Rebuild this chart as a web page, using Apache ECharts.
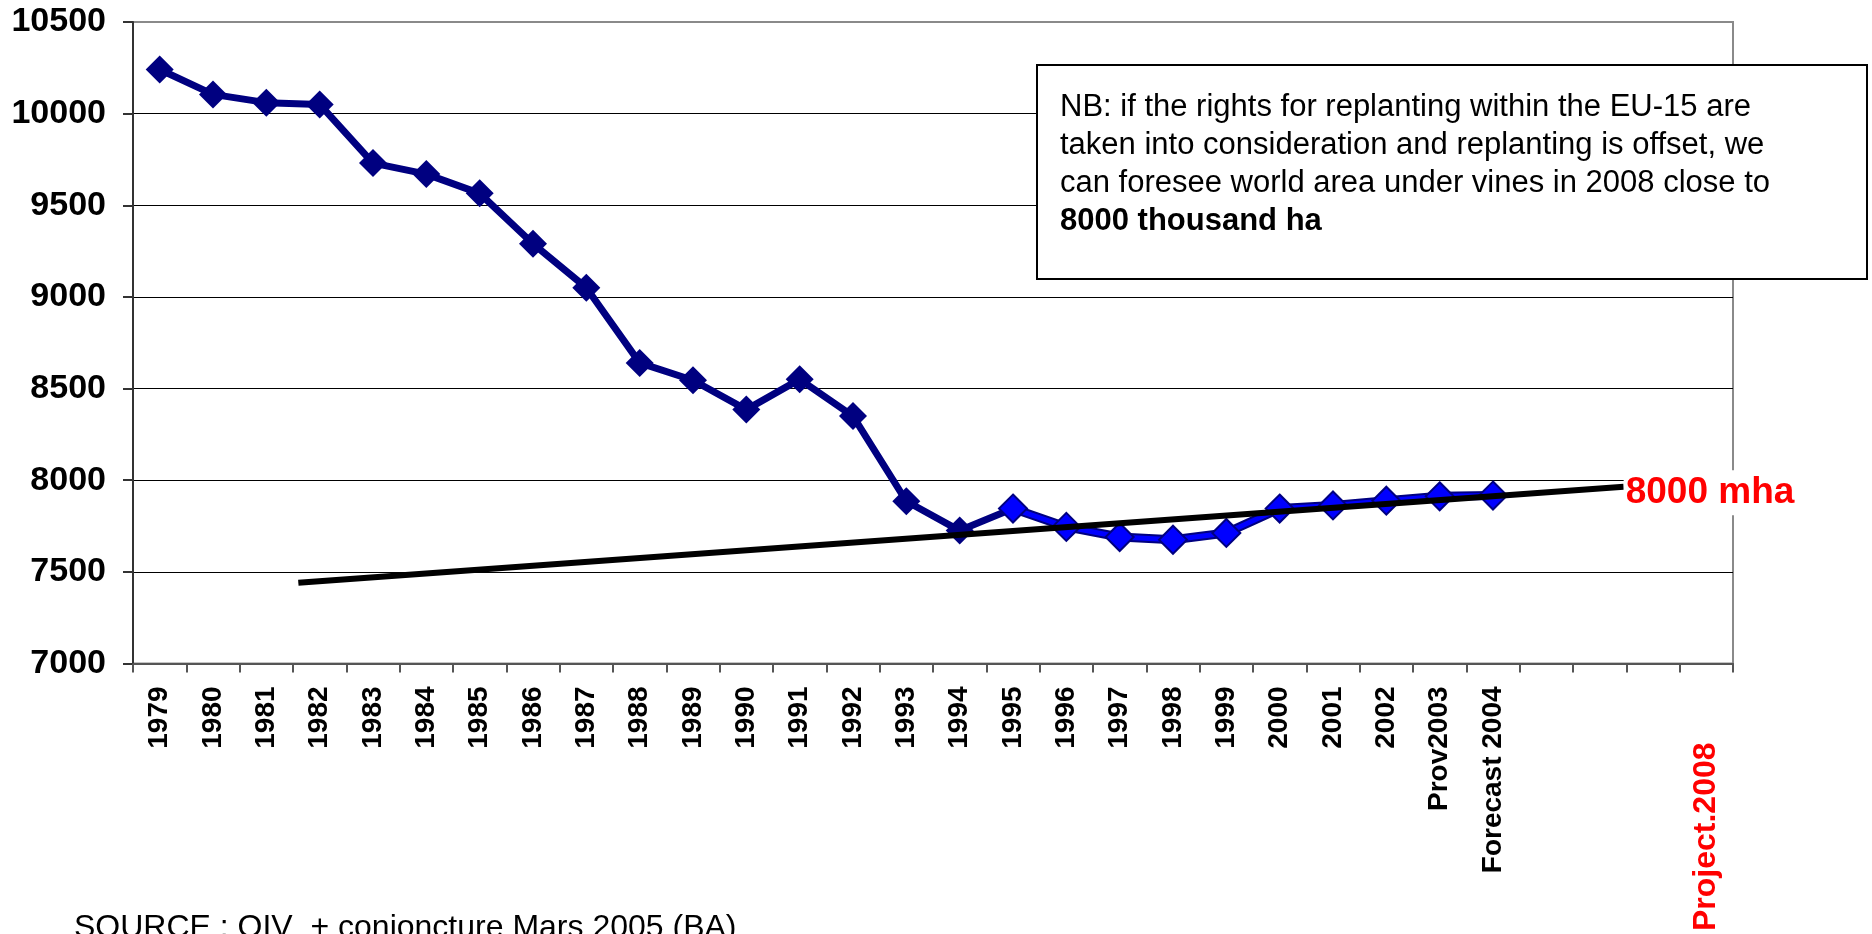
<!DOCTYPE html>
<html>
<head>
<meta charset="utf-8">
<script src="https://cdn.jsdelivr.net/npm/echarts@6/dist/echarts.min.js"></script>
<style>
  html, body { margin: 0; padding: 0; background: #fff; }
  #chart { width: 1872px; height: 934px; }
</style>
</head>
<body>
<div id="chart"></div>
<script>
// x categories (last four slots: 2005..2008, only 2008 labelled)
const years = [
  '1979', '1980', '1981', '1982', '1983', '1984', '1985', '1986', '1987', '1988',
  '1989', '1990', '1991', '1992', '1993', '1994', '1995', '1996', '1997', '1998',
  '1999', '2000', '2001', '2002', 'Prov2003', 'Forecast 2004', '', '', '', 'Project.2008'
]
// world vineyard area, thousand ha
const areaHistoric = [10241, 10105, 10060, 10050, 9730, 9670, 9565, 9290, 9050, 8640,
  8545, 8385, 8550, 8350, 7885, 7725, 7845] // 1979 - 1995
const areaRecent = [7845, 7745, 7690, 7675, 7712, 7845, 7862, 7888, 7912, 7916] // 1995 - 2004
const recentStart = 16 // index of 1995

// projection line (category index, value)
const trendPos = [2.6, 27.45]
const trendArea = [7440, 7964]

const yTicks = [7000, 10500, 500]

const histData = years.map((_, i) => (i < areaHistoric.length ? areaHistoric[i] : null))
const recentData = years.map((_, i) => {
  const k = i - recentStart
  return k >= 0 && k < areaRecent.length ? areaRecent[k] : null
})
const trendData = trendPos.map((x, i) => [x, trendArea[i]])

const font = "'Liberation Sans', Arial, sans-serif"
const chart = echarts.init(document.getElementById('chart'))

const option = {
  backgroundColor: '#fff',
  animation: false,
  textStyle: { fontFamily: font },
  grid: {
    left: 133, right: 139, top: 22, bottom: 267,
    show: true, borderColor: '#8a8a8a', borderWidth: 2, backgroundColor: '#fff'
  },
  xAxis: [
    {
      type: 'category',
      data: years,
      boundaryGap: true,
      axisLine: { onZero: false, lineStyle: { color: '#555', width: 2 } },
      axisTick: { show: true, length: 9, lineStyle: { color: '#555', width: 2 } },
      axisLabel: {
        interval: 0,
        rotate: 90,
        margin: 23,
        color: '#000',
        fontSize: 28,
        fontWeight: 'bold',
        fontFamily: font,
        formatter: (v) => (v === 'Project.2008' ? '{proj|' + v + '}' : v),
        rich: {
          proj: { color: '#ff0000', fontSize: 32, fontWeight: 'bold', fontFamily: font, padding: [0, 56, 0, 0] }
        }
      },
      splitLine: { show: false }
    },
    { type: 'value', min: -0.5, max: 29.5, show: false }
  ],
  yAxis: {
    type: 'value',
    min: yTicks[0],
    max: yTicks[1],
    interval: yTicks[2],
    axisLine: { show: true, onZero: false, lineStyle: { color: '#333', width: 2 } },
    axisTick: { show: true, length: 10, lineStyle: { color: '#333', width: 2 } },
    axisLabel: {
      margin: 27, color: '#000', fontSize: 34, fontWeight: 'bold', fontFamily: font,
      formatter: (v) => String(v)
    },
    splitLine: {
      lineStyle: {
        color: ['#555', '#000', '#000', '#000', '#000', '#000', '#000', '#8a8a8a'],
        width: 1
      }
    }
  },
  series: [
    {
      name: 'historic',
      type: 'line',
      data: histData,
      symbol: 'diamond',
      symbolSize: 28,
      lineStyle: { color: '#000080', width: 7 },
      itemStyle: { color: '#000080' },
      z: 3
    },
    {
      name: 'recent edge',
      type: 'line',
      data: recentData,
      symbol: 'none',
      lineStyle: { color: '#000080', width: 9 },
      z: 3
    },
    {
      name: 'recent',
      type: 'line',
      data: recentData,
      symbol: 'diamond',
      symbolSize: 28,
      lineStyle: { color: '#0000ff', width: 5 },
      itemStyle: { color: '#0000ff', borderColor: '#000080', borderWidth: 2 },
      z: 4
    },
    {
      name: 'projection',
      type: 'line',
      xAxisIndex: 1,
      data: trendData,
      symbol: 'none',
      lineStyle: { color: '#000', width: 6 },
      z: 5,
      endLabel: {
        show: true,
        formatter: '8000 mha',
        color: '#ff0000',
        fontSize: 37,
        fontWeight: 'bold',
        fontFamily: font,
        backgroundColor: '#fff',
        padding: [4, 6, 4, 2],
        distance: 0,
        offset: [0, 6]
      }
    }
  ],
  graphic: [
    {
      type: 'rect',
      left: 1036,
      top: 64,
      z: 10,
      shape: { width: 830, height: 214 },
      style: { fill: '#fff', stroke: '#000', lineWidth: 2 }
    },
    {
      type: 'text',
      left: 1060,
      top: 92,
      z: 11,
      style: {
        text: '{n|NB: if the rights for replanting within the EU-15 are}\n' +
          '{n|taken into consideration and replanting is offset, we}\n' +
          '{n|can foresee world area under vines in 2008 close to}\n' +
          '{b|8000 thousand ha}',
        fill: '#000',
        rich: {
          n: { fontSize: 31, fontFamily: font, lineHeight: 38, fill: '#000' },
          b: { fontSize: 31, fontFamily: font, fontWeight: 'bold', lineHeight: 38, fill: '#000' }
        }
      }
    },
    {
      type: 'text',
      left: 74,
      top: 912,
      z: 11,
      style: {
        text: 'SOURCE : OIV  + conjoncture Mars 2005 (BA)',
        fill: '#000',
        fontSize: 32,
        fontFamily: font
      }
    }
  ]
}

chart.setOption(option)
window.addEventListener('resize', () => chart.resize())
</script>
</body>
</html>
